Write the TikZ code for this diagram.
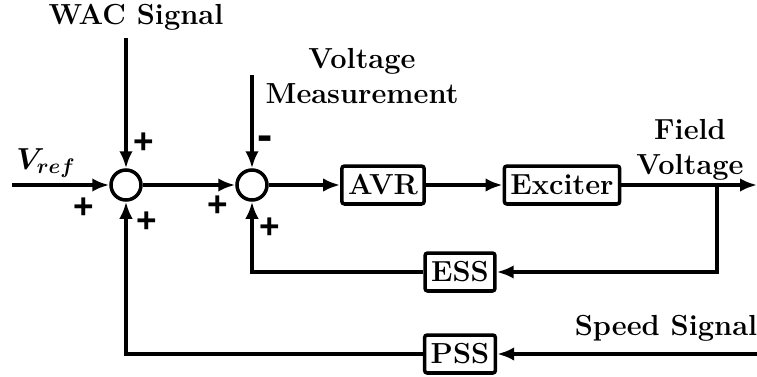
\documentclass[tikz,border=0pt]{standalone}
\usepackage{bm}
\usepackage{fontspec}
\newfontfamily\signfont{Liberation Sans}
\usetikzlibrary{arrows.meta, positioning}

\begin{document}
\begin{tikzpicture}[
x=0.02cm, y=-0.02cm,
font=\fontsize{16.5}{20}\selectfont\bfseries,
block/.style={rectangle, rounded corners=1.5pt, draw=black, line width=2pt, minimum height=0.76cm, inner xsep=3.5pt},
sum/.style={circle, draw=black, line width=2pt, minimum size=0.6cm, inner sep=0pt},
sign/.style={font=\signfont\fontsize{20}{24}\selectfont\bfseries},
line/.style={-{Latex[length=3.4mm,width=2.7mm]}, line width=2pt}
]
\useasboundingbox (0,0) rectangle (757,376);

% summing junctions
\node[sum] (sum1) at (126,185) {};
\node[sum] (sum2) at (252,185) {};

% blocks
\node[block] (avr) at (383,185) {AVR};
\node[block] (exc) at (562,185) {Exciter};
\node[block] (ess) at (460,272) {ESS};
\node[block] (pss) at (460,354) {PSS};

% signal labels
\node (wac) at (136,17) {WAC Signal};
\node[align=center] (vmeas) at (362,76) {Voltage\\Measurement};
\node[align=center] (field) at (690,150) {Field\\Voltage};
\node (speed) at (666,328) {Speed Signal};
\node (vref) at (46,163) {$\bm{V_{ref}}$};

\coordinate (wacin) at (126,38);
\coordinate (vmin) at (252,75);
\coordinate (vrefin) at (12,185);
\coordinate (out) at (757,185);
\coordinate (tap) at (717,185);
\coordinate (spdin) at (757,354);

% forward path
\draw[line] (vrefin) -- (sum1);
\draw[line] (wacin) -- (sum1);
\draw[line] (vmin) -- (sum2);
\draw[line] (sum1) -- (sum2);
\draw[line] (sum2) -- (avr);
\draw[line] (avr) -- (exc);
\draw[line] (exc) -- (out);

% feedback loops
\draw[line] (tap) |- (ess);
\draw[line] (ess) -| (sum2);
\draw[line] (spdin) -- (pss);
\draw[line] (pss) -| (sum1);

% signs
\node[sign] (s1a) at (144,143) {+};
\node[sign] (s1b) at (84,208) {+};
\node[sign] (s1c) at (147,222) {+};
\node[sign, font=\signfont\fontsize{26}{30}\selectfont\bfseries] (s2a) at (265,143) {-};
\node[sign] (s2b) at (218,206) {+};
\node[sign] (s2c) at (270,228) {+};
\end{tikzpicture}
\end{document}
